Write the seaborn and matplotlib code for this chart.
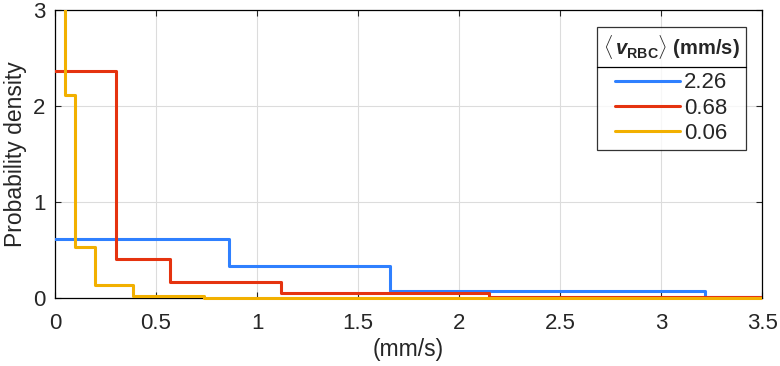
import numpy as np
import pandas as pd
import matplotlib
matplotlib.use("Agg")
import matplotlib.pyplot as plt
import matplotlib.patches as mpatches
import seaborn as sns

# bin edges and densities for each mean RBC speed (mm/s)
labels = ["2.26", "0.68", "0.06"]
edges_fast = [0, 0.86, 1.66, 3.22, 3.5]
dens_fast = [0.61, 0.33, 0.07, 0.01]
edges_mid = [0, 0.30, 0.57, 1.12, 2.15, 3.5]
dens_mid = [2.36, 0.41, 0.17, 0.05, 0.01]
edges_slow = [0, 0.05, 0.10, 0.20, 0.385, 0.74, 1.44, 3.5]
dens_slow = [5.5, 2.11, 0.53, 0.13, 0.025, 0.004, 0.0]

colors = ["#2F80FF", "#E5330F", "#F2B000"]

sns.set_style("white")
plt.rcParams["font.family"] = ["Liberation Sans", "DejaVu Sans"]
plt.rcParams["mathtext.fontset"] = "custom"
plt.rcParams["mathtext.rm"] = "Liberation Sans"
plt.rcParams["mathtext.bf"] = "Liberation Sans:bold"
plt.rcParams["mathtext.it"] = "Liberation Sans:italic"
plt.rcParams["mathtext.bfit"] = "Liberation Sans:bold:italic"

rows = []
for lab, e, d in zip(labels, [edges_fast, edges_mid, edges_slow], [dens_fast, dens_mid, dens_slow]):
    vals = list(d) + [d[-1]]
    for x, y in zip(e, vals):
        rows.append({"speed": x, "density": y, "group": lab})
df = pd.DataFrame(rows)

fig = plt.figure(figsize=(7.8, 3.66), dpi=100)
ax = fig.add_axes([0.0705, 0.186, 0.9065, 0.787])

sns.lineplot(data=df, x="speed", y="density", hue="group", hue_order=labels,
             palette=colors, drawstyle="steps-post", linewidth=2.2,
             estimator=None, sort=False, ax=ax)

# let the lines sit on top of the bottom spine like in MATLAB
clip = mpatches.Rectangle((0, -0.02), 1, 1.02, transform=ax.transAxes)
for ln in ax.get_lines():
    ln.set_clip_box(None)
    ln.set_clip_path(clip)
    ln.set_zorder(3)

ax.set_xlim(0, 3.5)
ax.set_ylim(0, 3)
ax.set_xticks(np.arange(0, 3.51, 0.5))
ax.set_xticklabels(["0", "0.5", "1", "1.5", "2", "2.5", "3", "3.5"])
ax.set_yticks([0, 1, 2, 3])
ax.tick_params(direction="in", length=4, labelsize=16, top=True, right=True,
               bottom=True, left=True, width=0.8)
ax.tick_params(axis="x", pad=11)
ax.tick_params(axis="y", pad=7)
ax.grid(True, color="#dcdcdc", linewidth=0.8)
ax.set_axisbelow(True)
for s in ax.spines.values():
    s.set_color("black")
    s.set_linewidth(0.9)
    s.set_zorder(2.5)
ax.set_xlabel("(mm/s)", fontsize=16.5, labelpad=3)
ax.set_ylabel("Probability density", fontsize=16.5, labelpad=4)

leg = ax.legend(title=r"$\langle\,\boldsymbol{v}_{\mathbf{RBC}}\rangle$ (mm/s)",
                loc="upper right", bbox_to_anchor=(746 / 780, 1 - 27 / 366),
                bbox_transform=fig.transFigure, borderaxespad=0,
                fontsize=16, frameon=True, fancybox=False, edgecolor="black",
                handlelength=2.9, handletextpad=0.2, borderpad=0.28,
                labelspacing=0.2, alignment="center")
leg.get_title().set_fontsize(14.5)
leg.get_title().set_fontweight("bold")
leg.get_frame().set_linewidth(0.9)
leg._legend_box.sep = 8

# separator line under legend title
fig.canvas.draw()
r = fig.canvas.get_renderer()
fb = leg.get_frame().get_window_extent(r)
tb = leg.get_title().get_window_extent(r)
hb = leg._legend_handle_box.get_window_extent(r)
yline = (tb.y0 + hb.y1) / 2
inv = fig.transFigure.inverted()
x0, y0 = inv.transform((fb.x0, yline))
x1, _ = inv.transform((fb.x1, yline))
fig.add_artist(plt.Line2D([x0, x1], [y0, y0], color="black", linewidth=0.9))

fig.savefig("out.png", dpi=100)
